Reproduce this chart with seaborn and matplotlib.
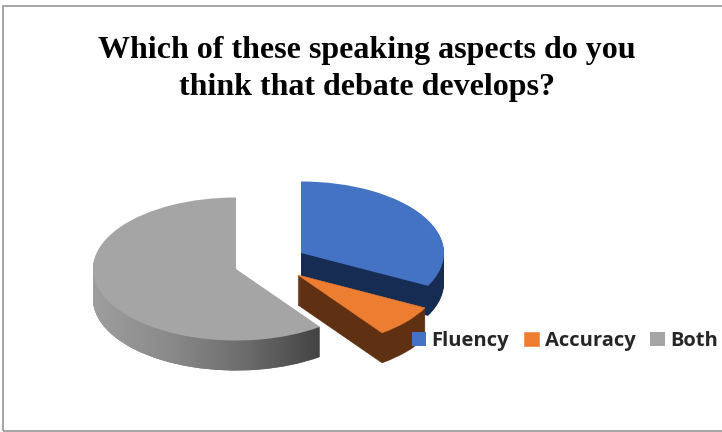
import numpy as np
import matplotlib
matplotlib.use("Agg")
import matplotlib.pyplot as plt
import seaborn as sns
from matplotlib.colors import LinearSegmentedColormap
from matplotlib.path import Path
from matplotlib.patches import Rectangle, PathPatch

categories = ["Fluency", "Accuracy", "Both"]
values = [32.6, 7.4, 60.0]

sns.set_theme(style="white")
top_colors = sns.color_palette(["#4472C4", "#ED7D31", "#A5A5A5"])
side_colors = sns.color_palette(["#172C52", "#603013", "#6E6E6E"])

# apex of each slice in image pixels (x, y), the pie is squashed 2:1 in y
centers = [(301, 253), (298, 275), (236, 269)]
edge_widths = [0, 0.4, 0]
radius = 143
depth = 30

fig = plt.figure(figsize=(7.22, 4.32), dpi=100, facecolor="white")
ax = fig.add_axes([0, 0, 1, 1])


def one_wedge(i, start, py_offset=0, color=None):
    cx, cy = centers[i]
    wedges, _ = ax.pie(
        [values[i] / 100], normalize=False, startangle=90 - start, counterclock=False,
        colors=[color], radius=radius, center=(cx, -2 * (cy + py_offset)),
        wedgeprops={"linewidth": edge_widths[i], "edgecolor": color},
    )
    return wedges[0]


# ===== SLICES =====
top_wedges = []
start = 0
for i in range(len(values)):
    layers = []
    for off in range(depth, 0, -1):
        layers.append(one_wedge(i, start, off, side_colors[i]))
    # Grey side has a left to right shading
    if categories[i] == "Both":
        shade = LinearSegmentedColormap.from_list("shade", ["#9E9E9E", "#8A8A8A", "#6C6C6C", "#424242"])
        img = ax.imshow(np.linspace(0, 1, 256).reshape(1, -1), cmap=shade, aspect="auto",
                        extent=(93, 322, -2 * 375, -2 * 260), zorder=1.5)
        clip = Path.make_compound_path(*[w.get_path() for w in layers])
        clip_patch = PathPatch(clip, transform=ax.transData, fc="none", lw=0)
        img.set_clip_path(clip_patch)
    w = one_wedge(i, start, 0, top_colors[i])
    w.set_zorder(2)
    top_wedges.append(w)
    start += values[i] * 3.6

ax.set_aspect("auto")
ax.set_xlim(0, 722)
ax.set_ylim(-864, 0)
ax.set_axis_off()

# outer chart frame, right side runs off the picture
fig.add_artist(Rectangle((3.5 / 722, 1 / 432), 730 / 722, 425 / 432, transform=fig.transFigure,
                         fc="none", ec="#969696", lw=1.2))

fig.text(367 / 722, 1 - 50.5 / 432, "Which of these speaking aspects do you", ha="center", va="center",
         family="Liberation Serif", weight="bold", fontsize=23, color="black")
fig.text(367 / 722, 1 - 87 / 432, "think that debate develops?", ha="center", va="center",
         family="Liberation Serif", weight="bold", fontsize=23, color="black")

leg = fig.legend(top_wedges, categories, ncol=3, loc="center", bbox_to_anchor=(565 / 722, 1 - 341 / 432),
                 frameon=False, handlelength=0.7, handleheight=0.7, handletextpad=0.3, columnspacing=0.75,
                 borderpad=0, borderaxespad=0,
                 prop={"family": "Open Sans", "weight": "bold", "size": 14.5})

fig.savefig("out.png", dpi=100)
